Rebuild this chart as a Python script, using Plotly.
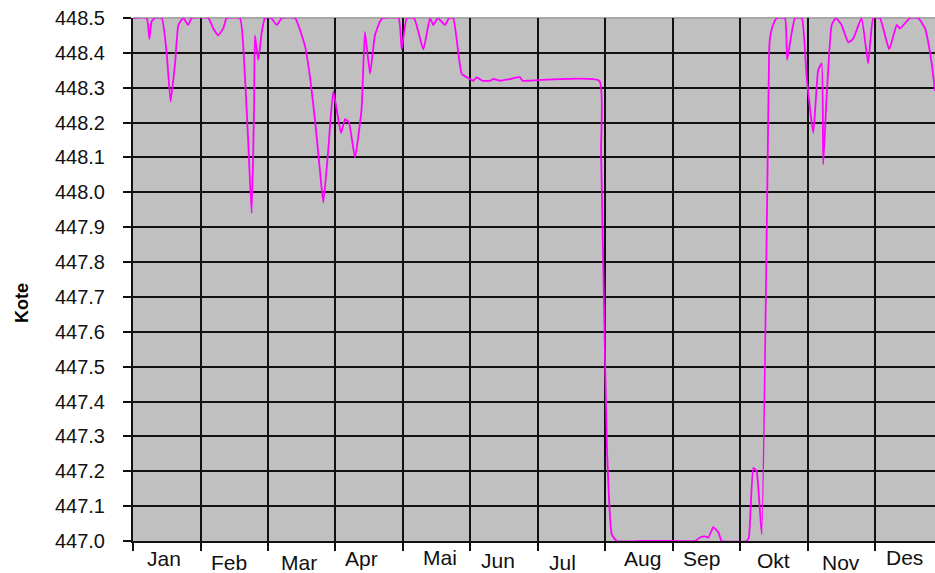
import plotly.graph_objects as go

# ---- data (day of year, water level "Kote") ----
day = [0, 6.2, 7.4, 8.4, 9.9, 13.0, 15.2, 17.0, 19.0, 20.5, 22.7, 25.0, 26.5,
       34.0, 36.3, 38.5, 40.8, 42.3, 48.3, 50.6, 52.1, 53.6, 54.7, 55.1, 56.6, 58.2, 59.6,
       62.4, 64.9, 67.3, 73.2, 77.7, 80.0, 82.2, 84.5, 86.0, 88.2, 90.5, 94.0, 95.8, 97.6,
       100.3, 103.3, 104.8, 107.1, 109.3, 111.6, 113.0, 120.0, 121.4, 123.7, 127.0, 131.2,
       134.2, 135.7, 137.8, 141.0, 142.8, 144.7, 147.0, 148.5, 150.8, 153.8, 155.3, 158.0,
       161.3, 163.0, 165.8, 170.3, 174.9, 176.0, 177.9, 210.7, 211.5, 212.8, 214.2, 216.3,
       218.6, 230.0, 245.0, 254.0, 256.2, 258.5, 260.0, 262.2, 264.5, 266.0, 277.3, 278.3,
       280.3, 281.8, 284.1, 287.5, 287.8, 289.2, 290.9, 294.6, 295.6, 299.1, 302.2, 304.4,
       307.4, 309.6, 311.2, 311.9, 313.4, 315.7, 317.6, 320.2, 323.2, 325.4, 329.2, 332.2,
       334.5, 337.5, 341.7, 345.1, 346.6, 351.1, 354.8, 357.9, 360.9, 362.4]
kote = [448.5, 448.5, 448.44, 448.49, 448.5, 448.5, 448.40, 448.26, 448.37, 448.48, 448.5, 448.48, 448.5,
        448.5, 448.47, 448.45, 448.47, 448.5, 448.5, 448.33, 448.14, 447.94, 448.24, 448.45, 448.38, 448.46, 448.5,
        448.5, 448.48, 448.5, 448.5, 448.42, 448.33, 448.21, 448.06, 447.97, 448.12, 448.29, 448.17, 448.21, 448.20,
        448.10, 448.24, 448.46, 448.34, 448.45, 448.49, 448.5, 448.5, 448.41, 448.5, 448.5, 448.41,
        448.5, 448.48, 448.5, 448.48, 448.5, 448.5, 448.40, 448.34, 448.33, 448.32, 448.33, 448.32,
        448.32, 448.325, 448.32, 448.325, 448.33, 448.32, 448.32, 448.32, 448.12, 447.69, 447.26, 447.02,
        447.0, 447.0, 447.0, 447.0, 447.01, 447.013, 447.01, 447.04, 447.025, 447.0, 447.0, 447.01,
        447.21, 447.20, 447.02, 448.41, 448.44, 448.48, 448.5, 448.5, 448.38, 448.5, 448.5, 448.33,
        448.17, 448.35, 448.37, 448.08, 448.27, 448.48, 448.5, 448.48, 448.43, 448.44, 448.5, 448.37,
        448.5, 448.5, 448.41, 448.48, 448.47, 448.5, 448.5, 448.47, 448.37, 448.29]

months = ["Jan", "Feb", "Mar", "Apr", "Mai", "Jun", "Jul", "Aug", "Sep", "Okt", "Nov", "Des"]
y_ticks = [447.0, 447.1, 447.2, 447.3, 447.4, 447.5, 447.6, 447.7, 447.8, 447.9,
           448.0, 448.1, 448.2, 448.3, 448.4, 448.5]

# ---- layout helpers (label placement) ----
month_label_x = [13.8, 43.4, 75.0, 103.2, 138.5, 164.9, 194.3, 230.2, 257.1, 289.2, 319.9, 348.4]
month_label_shift = [-17, -21, -21, -17, -16, -19, -21, -17, -17, -19, -21, -16]

FONT = "Liberation Sans, Arial, sans-serif"

fig = go.Figure()
fig.add_trace(go.Scatter(x=day, y=kote, mode="lines",
                         line=dict(color="#FF00FF", width=1.8, shape="spline", smoothing=0.4),
                         hoverinfo="skip", showlegend=False))

fig.update_layout(
    width=935, height=573,
    margin=dict(l=133, r=0, t=18, b=32),
    paper_bgcolor="white", plot_bgcolor="#C0C0C0",
    font=dict(family=FONT, color="black"),
    xaxis=dict(range=[0, 362.4], tick0=0, dtick=30.5, showticklabels=False,
               showgrid=True, gridcolor="#111111", gridwidth=2,
               ticks="outside", ticklen=8, tickwidth=2, tickcolor="#111111",
               showline=True, linecolor="#111111", linewidth=2, zeroline=False),
    yaxis=dict(range=[447.0, 448.5], tickvals=y_ticks,
               ticktext=[f"{v:.1f}" for v in y_ticks],
               tickfont=dict(size=20, family=FONT, color="#111111"),
               showgrid=True, gridcolor="#111111", gridwidth=2,
               ticks="outside", ticklen=8, tickwidth=2, tickcolor="#111111",
               ticklabelstandoff=14,
               showline=True, linecolor="#111111", linewidth=2, zeroline=False),
)

# top border (lighter gray)
fig.add_shape(type="line", xref="paper", yref="paper", x0=0, x1=1, y0=1, y1=1,
              line=dict(color="#A8A8A8", width=2), layer="between")

for m, xm, sh in zip(months, month_label_x, month_label_shift):
    fig.add_annotation(x=xm, y=0, xref="x", yref="paper", text=m, showarrow=False,
                       yanchor="middle", xanchor="center", yshift=sh,
                       font=dict(size=21, family=FONT, color="#111111"))

fig.add_annotation(x=-0.1384, y=0.455, xref="paper", yref="paper", text="<b>Kote</b>",
                   textangle=-90, showarrow=False, xanchor="center", yanchor="middle",
                   font=dict(size=18, family=FONT, color="black"))

fig.write_html("out.html", config={"displayModeBar": False},
               post_script="document.body.style.margin='0';document.body.style.overflow='hidden';")
